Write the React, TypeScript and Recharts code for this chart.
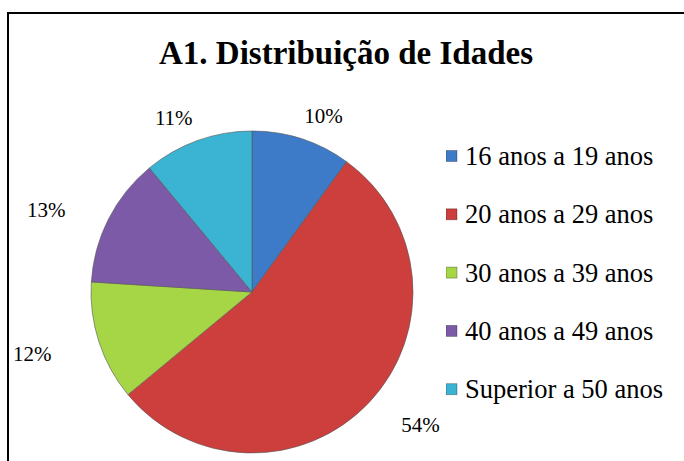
import { PieChart, Pie, Cell, Legend } from "recharts"

const categories = ["16 anos a 19 anos", "20 anos a 29 anos", "30 anos a 39 anos", "40 anos a 49 anos", "Superior a 50 anos"]
const values = [10, 54, 12, 13, 11]
const colors = ["#3d7bc8", "#cc3f3c", "#a6d546", "#7d5aa8", "#3bb3d2"]

const data = categories.map((name, i) => ({ name, value: values[i] }))

const SERIF = "'Liberation Serif', 'DejaVu Serif', serif"
const RAD = Math.PI / 180

const renderLabel = (props: any) => {
  const { cx, cy, midAngle, outerRadius, percent } = props
  const h = Math.cos(midAngle * RAD)
  const v = Math.sin(midAngle * RAD)
  // labels are spread wider than tall, like the original's best-fit placement
  const x = cx + (outerRadius + 70) * h
  const y = cy - (outerRadius + 28) * v + 4
  return (
    <text
      x={x}
      y={y}
      textAnchor="middle"
      dominantBaseline="central"
      style={{ fontFamily: SERIF }}
      fontSize={21}
      fill="#000"
    >
      {`${Math.round(percent * 100)}%`}
    </text>
  )
}

const renderLegend = () => (
  <svg width={236} height={292}>
    {data.map((d, i) => (
      <g key={d.name} transform={`translate(0, ${29 + i * 58.3})`}>
        <rect x={0} y={-5.5} width={11} height={11} fill={colors[i]} stroke="rgba(0,0,0,0.35)" strokeWidth={0.8} />
        <text x={19} y={0} dominantBaseline="central" style={{ fontFamily: SERIF }} fontSize={26.5} fill="#000">
          {d.name}
        </text>
      </g>
    ))}
  </svg>
)

export default function App() {
  return (
    <div style={{ position: "fixed", left: 0, top: 0, width: 684, height: 461, background: "#fff", overflow: "hidden" }}>
      <div
        style={{
          position: "absolute",
          left: 7,
          top: 12,
          width: 690,
          height: 470,
          border: "2px solid #000",
          boxSizing: "border-box",
        }}
      />
      <svg style={{ position: "absolute", left: 0, top: 0 }} width={684} height={100}>
        <text
          x={346}
          y={53}
          textAnchor="middle"
          dominantBaseline="central"
          style={{ fontFamily: SERIF, fontWeight: "bold" }}
          fontSize={33}
          fill="#000"
        >
          A1. Distribuição de Idades
        </text>
      </svg>
      <div style={{ position: "absolute", left: 0, top: 0 }}>
        <PieChart width={684} height={461} margin={{ top: 0, right: 0, bottom: 0, left: 0 }}>
          <Pie
            data={data}
            dataKey="value"
            nameKey="name"
            cx={252}
            cy={292}
            outerRadius={161}
            startAngle={90}
            endAngle={-270}
            stroke="#555"
            strokeWidth={0.6}
            label={renderLabel}
            labelLine={false}
            isAnimationActive={false}
          >
            {data.map((d, i) => (
              <Cell key={d.name} fill={colors[i]} />
            ))}
          </Pie>
          <Legend
            layout="vertical"
            align="right"
            verticalAlign="top"
            content={renderLegend}
            wrapperStyle={{ left: 446, top: 127, width: 236 }}
          />
        </PieChart>
      </div>
    </div>
  )
}
